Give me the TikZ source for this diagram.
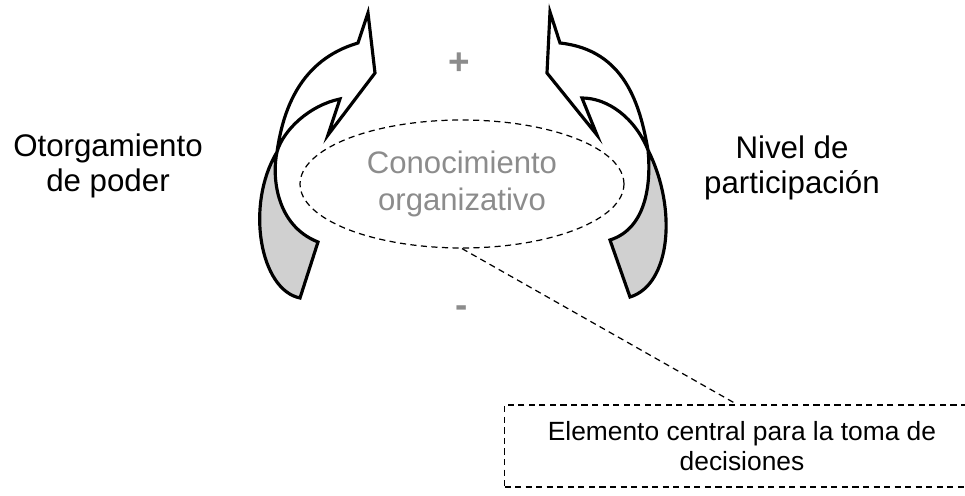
\documentclass[tikz,border=0pt]{standalone}
\usepackage{fontspec}
\setmainfont{Liberation Sans}
\usetikzlibrary{shapes.geometric}
\definecolor{lblgray}{HTML}{8C8C8C}
\definecolor{ribgray}{HTML}{D0D0D0}

\begin{document}
\begin{tikzpicture}[x=0.02cm,y=-0.02cm,
	ribbon/.style={line width=1.8pt,line join=miter},
	dashline/.style={dash pattern=on 3.5pt off 2.5pt,line width=0.7pt},
	bigtext/.style={font=\fontsize{17.8}{19.8}\selectfont,align=center,inner sep=0pt},
	signtext/.style={font=\fontsize{21}{24}\selectfont\bfseries,text=lblgray,inner sep=0pt}]
	\useasboundingbox (0,0) rectangle (965,496);
	\clip (0,0) rectangle (965,496);

	%left ribbon
	\fill[white] (368,13)--(375,73)--(328,135)--(340,99)
		.. controls (310,105) and (283,130) .. (277,152)
		.. controls (272,175) and (275,225) .. (318,242) -- (300,298)
		.. controls (260,290) and (245,205) .. (277,152)
		.. controls (283,110) and (300,60) .. (358,43) -- cycle;
	\fill[ribgray] (277,152) .. controls (272,175) and (275,225) .. (318,242) -- (300,298)
		.. controls (260,290) and (245,205) .. (277,152) -- cycle;
	\draw[ribbon] (368,13)--(375,73)--(328,135)--(340,99)
		.. controls (310,105) and (283,130) .. (277,152)
		.. controls (272,175) and (275,225) .. (318,242) -- (300,298)
		.. controls (260,290) and (245,205) .. (277,152)
		.. controls (283,110) and (300,60) .. (358,43) -- cycle;

	%right ribbon
	\fill[white] (550,12)--(547,73)--(597,135)--(582,98)
		.. controls (608,98) and (635,118) .. (648,150)
		.. controls (651,180) and (648,228) .. (610,240) -- (630,297)
		.. controls (670,285) and (678,210) .. (648,150)
		.. controls (640,105) and (625,50) .. (560,43) -- cycle;
	\fill[ribgray] (648,150) .. controls (651,180) and (648,228) .. (610,240) -- (630,297)
		.. controls (670,285) and (678,210) .. (648,150) -- cycle;
	\draw[ribbon] (550,12)--(547,73)--(597,135)--(582,98)
		.. controls (608,98) and (635,118) .. (648,150)
		.. controls (651,180) and (648,228) .. (610,240) -- (630,297)
		.. controls (670,285) and (678,210) .. (648,150)
		.. controls (640,105) and (625,50) .. (560,43) -- cycle;

	%centre and note
	\node[ellipse,draw,dashline,minimum width=6.48cm,minimum height=2.56cm,inner sep=0pt,
		text=lblgray,font=\fontsize{17.7}{21}\selectfont,align=center] (conoc) at (462,184)
		{Conocimiento\\organizativo};
	\node[draw,dashline,minimum width=9.5cm,minimum height=1.64cm,inner sep=0pt,
		font=\fontsize{15}{17}\selectfont,align=center] (decision) at (742,446)
		{Elemento central para la toma de\\decisiones};
	\draw[dashline] (conoc.south) -- ([xshift=-0.1cm]decision.north);

	%side labels
	\node[bigtext] (poder) at (108,166) {Otorgamiento\\de poder};
	\node[bigtext] (partic) at (792,168) {Nivel de\\participación};

	%signs
	\node[signtext] (plus) at (459,64) {+};
	\node[signtext] (minus) at (462,312) {-};
\end{tikzpicture}
\end{document}
